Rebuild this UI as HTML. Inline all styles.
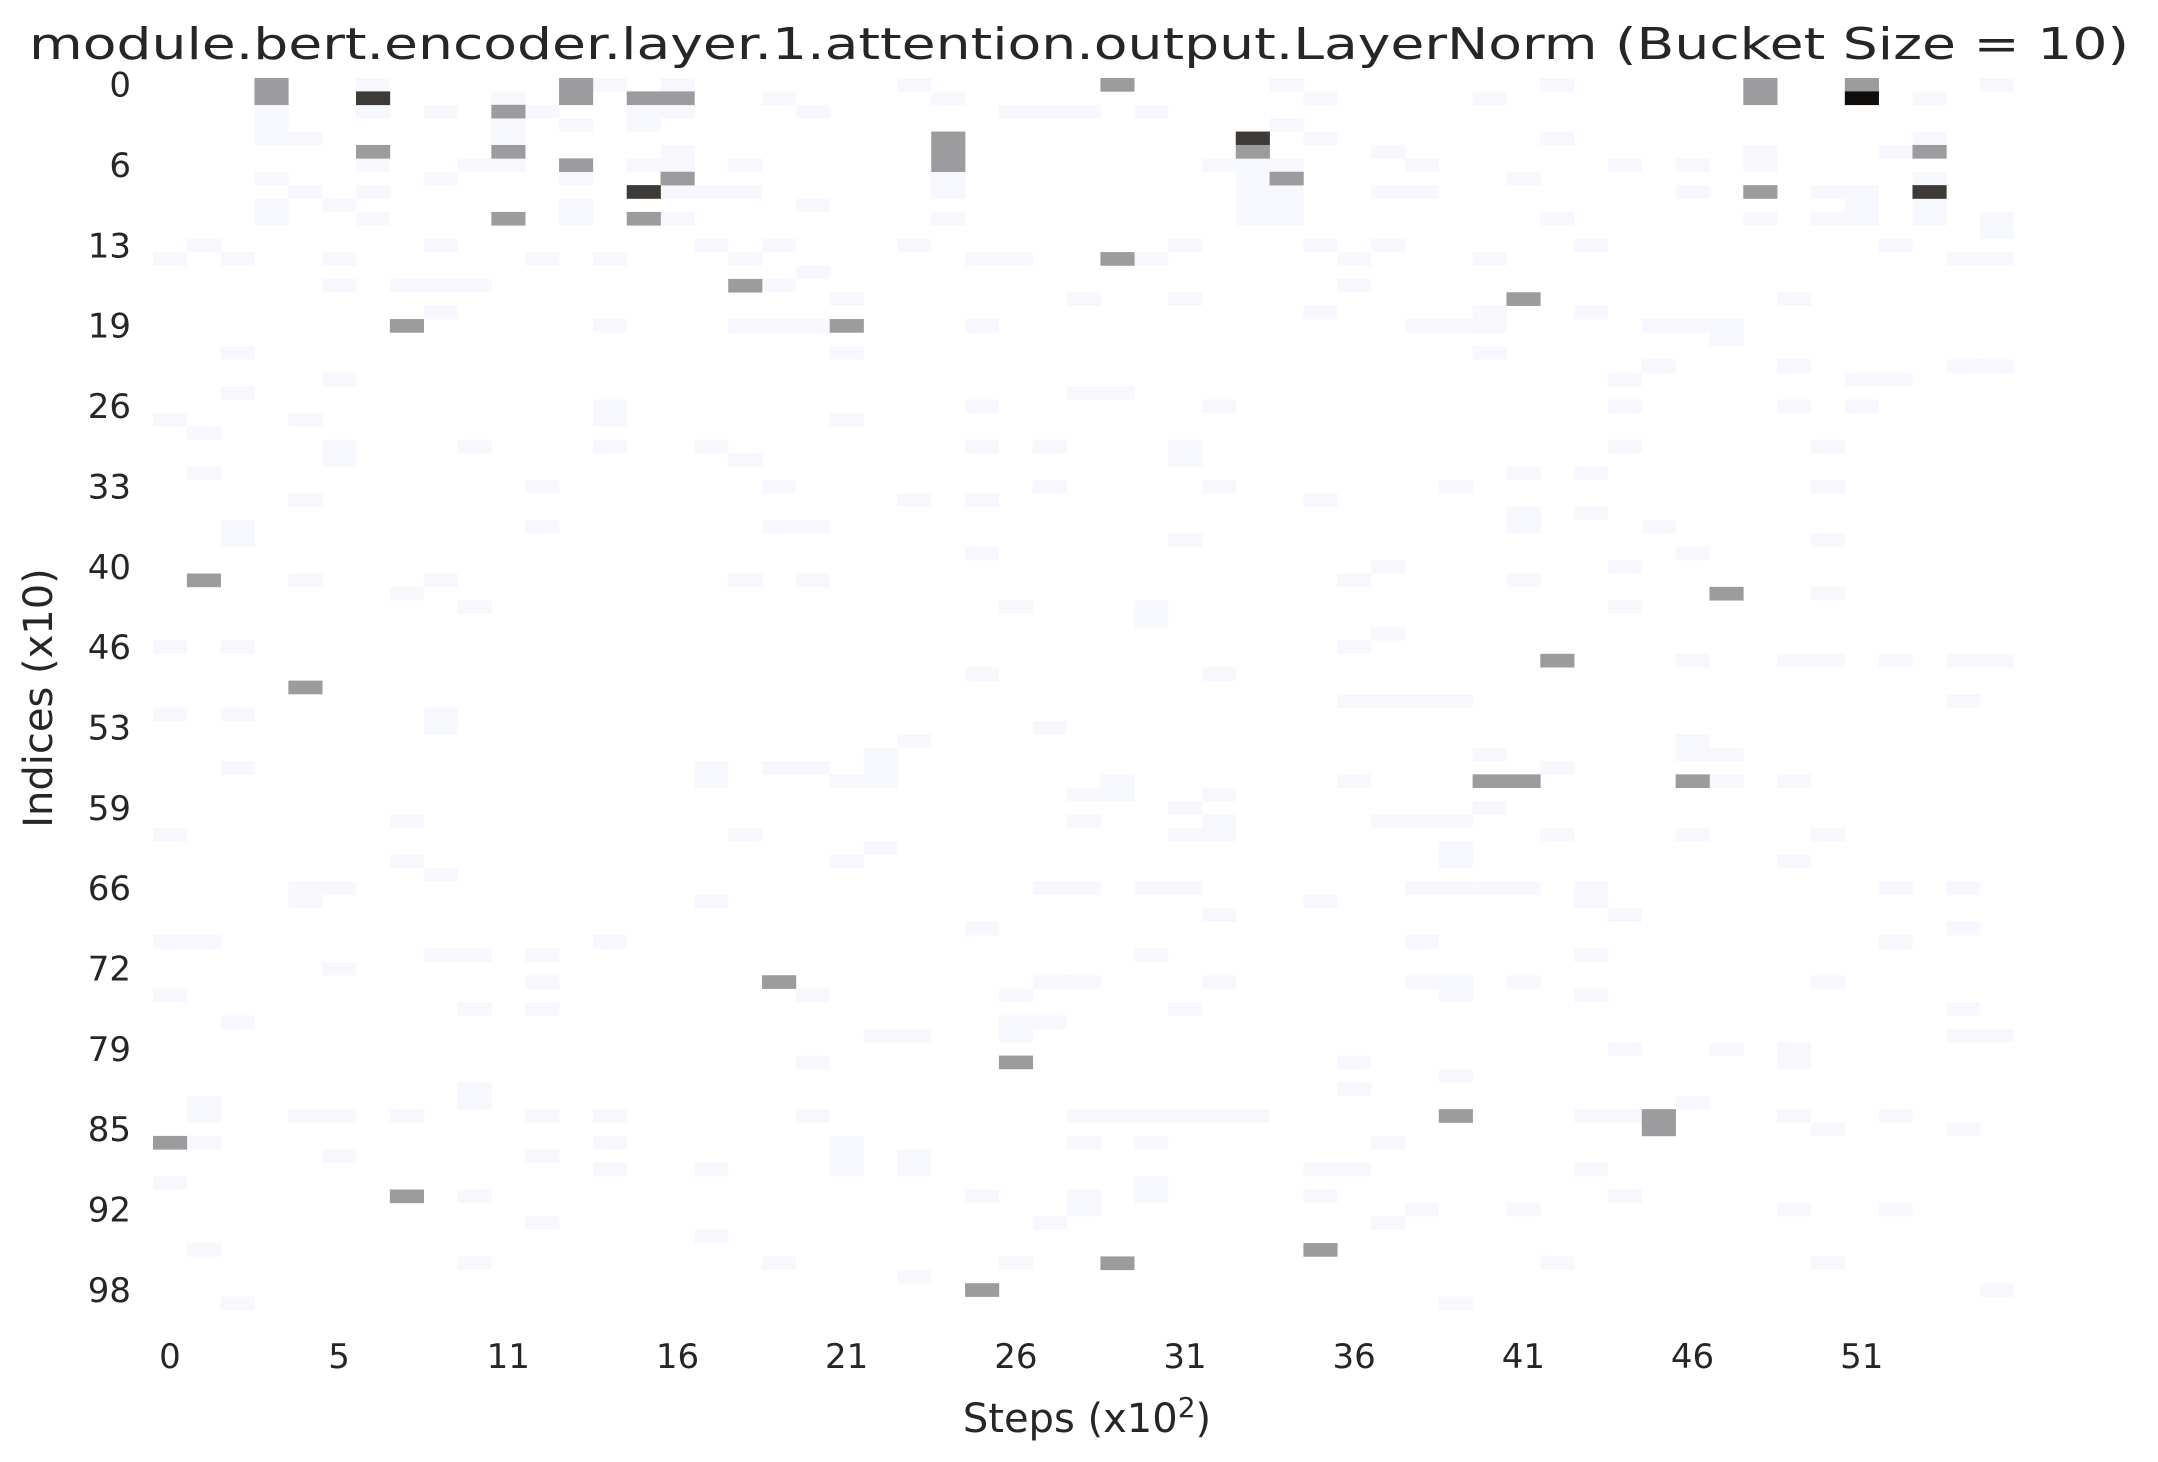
<!DOCTYPE html>
<html><head><meta charset="utf-8"><style>
html,body{margin:0;padding:0;background:#fff;}
svg{display:block;font-family:"DejaVu Sans","Liberation Sans",sans-serif;}
</style></head><body>
<svg id="chart" width="2158" height="1462" viewBox="0 0 2158 1462" xmlns="http://www.w3.org/2000/svg">
<rect x="0" y="0" width="2158" height="1462" fill="#fff"/>
<text x="1079" y="59" text-anchor="middle" font-size="44" fill="#262626" textLength="2100" lengthAdjust="spacingAndGlyphs">module.bert.encoder.layer.1.attention.output.LayerNorm (Bucket Size = 10)</text>
<g id="cells"></g>
<g id="yticks"></g>
<g id="xticks"></g>
<text x="1087" y="1432" text-anchor="middle" font-size="40" fill="#262626">Steps (x10<tspan dy="-15" font-size="28">2</tspan><tspan dy="15">)</tspan></text>
<text x="0" y="0" transform="translate(52,698) rotate(-90)" text-anchor="middle" font-size="40" fill="#262626">Indices (x10)</text>
</svg>
<script>
const nCols = 55;
const nRows = 92;
const rowTickLabels = ["0","6","13","19","26","33","40","46","53","59","66","72","79","85","92","98"];
const colTickLabels = ["0","5","11","16","21","26","31","36","41","46","51"];
// strong cells: [col,row,value]  value: 40 gray, 80 dark, 100 black
const strongCells = [
[3,0,40],[3,1,40],[6,1,80],[10,2,40],[12,0,40],[12,1,40],[14,1,40],[15,1,40],[6,5,40],[10,5,40],[12,6,40],[15,7,40],[14,8,80],[10,10,40],[14,10,40],
[23,4,40],[23,5,40],[23,6,40],[28,0,40],[32,4,80],[32,5,40],[33,7,40],[47,0,40],[47,1,40],[50,0,40],[50,1,100],[52,5,40],[47,8,40],[52,8,80],
[28,13,40],[17,15,40],[40,16,40],[7,18,40],[20,18,40],[1,37,40],[46,38,40],[41,43,40],[4,45,40],[39,52,40],[40,52,40],[45,52,40],[18,67,40],
[25,73,40],[38,77,40],[44,77,40],[44,78,40],[0,79,40],[7,83,40],[28,88,40],[34,87,40],[24,90,40]
];
// faint cells: [col,row]
const faintCells = [
[6,0],[6,2],[8,2],[11,2],[3,2],[3,3],[3,4],[4,4],[10,3],[10,4],[12,3],[14,2],[14,3],[15,2],[13,0],[15,0],[10,1],[18,1],[19,2],[22,0],[23,1],[25,2],[26,2],
[6,6],[9,6],[10,6],[14,6],[15,6],[15,5],[17,6],[3,7],[8,7],[12,7],[23,7],[23,8],[4,8],[6,8],[15,8],[16,8],[17,8],[3,9],[3,10],[5,9],[12,9],[12,10],[19,9],[6,10],[15,10],[23,10],
[1,12],[0,13],[2,13],[5,13],[8,12],[11,13],[13,13],[16,12],[17,13],[18,12],[22,12],[24,13],[25,13],[19,14],[5,15],[7,15],[8,15],[9,15],[18,15],[20,16],[8,17],[13,18],[17,18],[18,18],[19,18],[24,18],[2,20],[20,20],[5,22],[2,23],
[33,0],[34,1],[39,1],[41,0],[52,1],[54,0],[29,2],[27,2],[33,3],[34,4],[41,4],[52,4],[36,5],[51,5],[47,5],[47,6],[31,6],[32,6],[33,6],[37,6],[43,6],[45,6],[32,7],[32,8],[32,9],[32,10],[33,8],[33,9],[33,10],[40,7],[52,7],
[36,8],[37,8],[45,8],[49,8],[50,8],[50,9],[49,10],[50,10],[52,9],[52,10],[41,10],[47,10],[54,10],[54,11],[30,12],[34,12],[36,12],[42,12],[51,12],[29,13],[35,13],[39,13],[53,13],[54,13],[35,15],[27,16],[30,16],[48,16],[34,17],[39,17],[42,17],
[37,18],[38,18],[39,18],[44,18],[45,18],[46,18],[46,19],[39,20],[44,21],[48,21],[53,21],[54,21],[43,22],[51,22],[27,23],[28,23],
[0,25],[1,26],[2,23],[5,22],[4,25],[5,27],[5,28],[1,29],[2,33],[2,34],[4,31],[9,27],[11,30],[11,33],[13,24],[13,25],[13,27],[16,27],[17,28],[18,30],[18,33],[19,33],[17,37],[19,37],[20,25],[22,31],[24,24],[24,27],[24,31],[24,35],[26,27],[26,30],[27,23],[30,27],[30,28],[31,24],[31,30],[30,34],[34,31],[38,30],[40,29],[40,32],[40,33],[42,29],[42,32],[40,37],
[0,42],[2,42],[0,47],[2,47],[2,51],[4,37],[4,60],[4,61],[5,60],[5,66],[7,38],[8,37],[9,39],[8,47],[8,48],[7,55],[7,58],[8,59],[0,56],[0,64],[1,64],[0,68],[2,70],[8,65],[9,65],[11,65],[11,67],[9,69],[11,69],[13,64],[16,51],[16,52],[17,56],[16,61],[18,51],[19,51],[20,52],[21,50],[21,51],[21,52],[20,58],[21,57],[22,49],
[24,63],[25,68],[26,67],[27,67],[26,48],[26,60],[27,60],[27,53],[28,52],[28,53],[27,55],[30,54],[30,56],[31,53],[31,55],[31,56],[29,60],[30,60],[31,62],[29,65],[30,69],[31,67],[29,39],[29,40],[31,44],[24,44],[25,39],
[34,61],[35,52],[35,46],[35,42],[36,41],[36,36],[35,37],[36,46],[37,46],[38,46],[36,55],[37,55],[38,55],[38,57],[38,58],[37,60],[38,60],[39,60],[40,60],[42,60],[42,61],[43,62],[37,64],[37,67],[38,67],[38,68],[40,67],[42,65],[42,68],[39,50],[41,51],[39,54],[41,56],
[43,36],[43,39],[45,35],[44,33],[43,22],[43,24],[43,27],[44,21],[48,21],[48,24],[50,22],[50,24],[49,27],[49,30],[49,34],[49,38],[48,43],[49,43],[51,43],[53,43],[54,43],[45,43],[53,46],[45,49],[45,50],[46,50],[48,52],[46,52],[45,56],[49,56],[48,58],[51,60],[53,60],[51,64],[53,63],[49,67],[53,69],[53,71],[54,71],[46,72],[48,72],[48,73],[43,72],[45,76],[43,77],[42,77],[48,77],[49,78],[51,77],[53,78],
[38,74],[35,73],[35,75],[36,79],[34,81],[35,81],[34,83],[36,85],[37,84],[40,84],[42,81],[43,83],[48,84],[51,84],[41,88],[49,88],[38,91],[54,90],
[27,77],[28,77],[29,77],[30,77],[31,77],[32,77],[27,79],[29,79],[27,83],[27,84],[26,85],[29,82],[29,83],[25,88],[22,89],[24,83],[25,70],[25,71],[26,70],[20,79],[20,80],[20,81],[22,80],[22,81],[21,71],[22,71],[19,73],[19,77],[18,88],[16,81],[16,86],
[13,77],[13,79],[13,81],[11,77],[11,80],[11,85],[9,83],[9,88],[9,75],[9,76],[7,77],[4,77],[5,77],[5,80],[1,76],[1,77],[1,79],[0,82],[1,87],[2,91],[19,68]
];
const L = 153, T = 78, W = 1861, H = 1232;
const cw = W / nCols, rh = H / nRows;
function xOf(c){ return L + c * cw; }
function yOf(r){ return T + r * rh; }
function colorOf(v){
  if (v >= 100) return "#110d0a";
  if (v >= 80) return "#3e3a37";
  if (v >= 40) return "#9c9c9e";
  return "#f7f8fd";
}
const NS = "http://www.w3.org/2000/svg";
const g = document.getElementById("cells");
faintCells.forEach(function(p){
  const r = document.createElementNS(NS, "rect");
  r.setAttribute("x", xOf(p[0])); r.setAttribute("y", yOf(p[1]));
  r.setAttribute("width", cw + 0.3); r.setAttribute("height", rh + 0.3);
  r.setAttribute("fill", colorOf(1));
  
  
  g.appendChild(r);
});
strongCells.forEach(function(p){
  const r = document.createElementNS(NS, "rect");
  r.setAttribute("x", xOf(p[0])); r.setAttribute("y", yOf(p[1]));
  r.setAttribute("width", cw + 0.3); r.setAttribute("height", rh + 0.3);
  r.setAttribute("fill", colorOf(p[2]));
  
  
  g.appendChild(r);
});
const yt = document.getElementById("yticks");
rowTickLabels.forEach(function(lab, k){
  const t = document.createElementNS(NS, "text");
  t.setAttribute("x", 131); t.setAttribute("y", yOf(6 * k + 0.5) + 12);
  t.setAttribute("text-anchor", "end"); t.setAttribute("font-size", "34"); t.setAttribute("fill", "#262626");
  t.textContent = lab;
  
  
  yt.appendChild(t);
});
const xt = document.getElementById("xticks");
colTickLabels.forEach(function(lab, k){
  const t = document.createElementNS(NS, "text");
  t.setAttribute("x", xOf(5 * k + 0.5)); t.setAttribute("y", 1368);
  t.setAttribute("text-anchor", "middle"); t.setAttribute("font-size", "34"); t.setAttribute("fill", "#262626");
  t.textContent = lab;
  
  
  xt.appendChild(t);
});
</script>
</body></html>
